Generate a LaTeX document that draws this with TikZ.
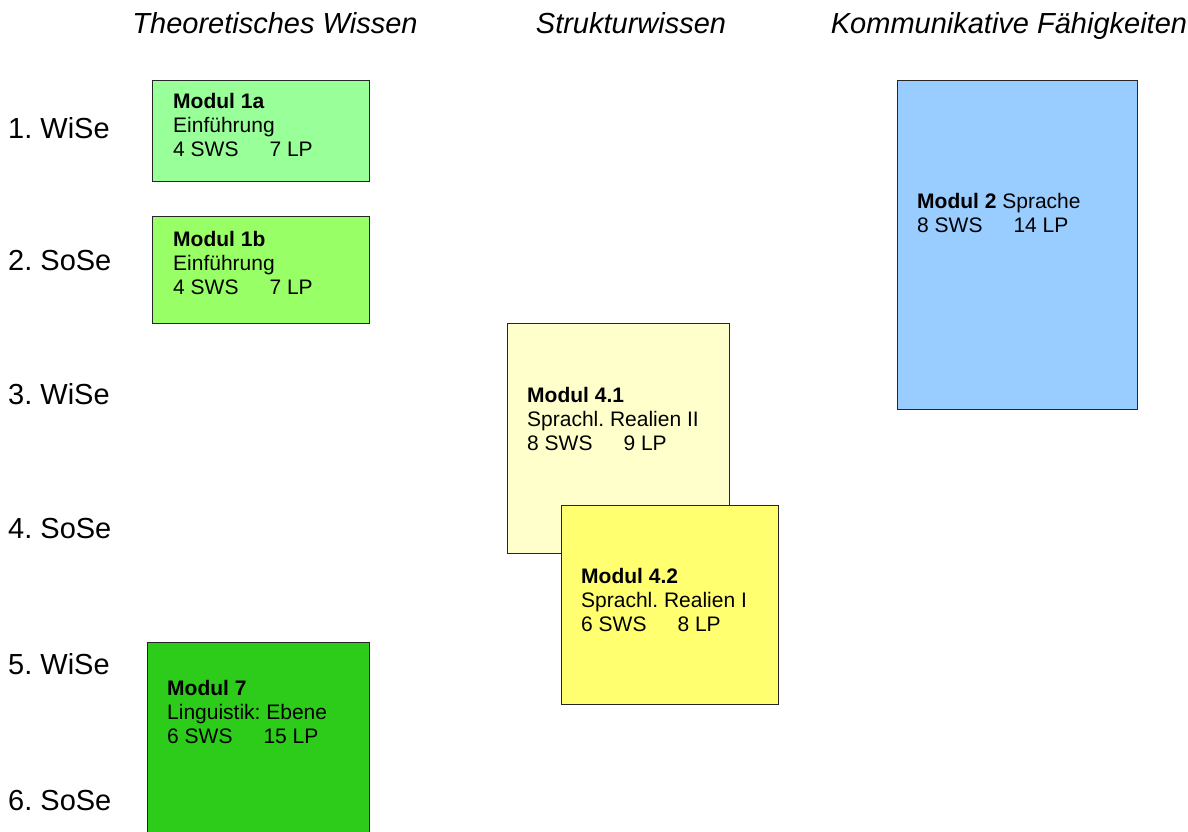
\documentclass[tikz,border=0pt]{standalone}
\usepackage{fontspec}
\setmainfont{Liberation Sans}
\definecolor{gruenhell}{HTML}{99FF99}
\definecolor{gruenmittel}{HTML}{99FF66}
\definecolor{gruendunkel}{HTML}{2DCC1A}
\definecolor{gelbhell}{HTML}{FFFFCC}
\definecolor{gelb}{HTML}{FFFF70}
\definecolor{blau}{HTML}{99CCFF}
\newcommand{\lp}{\hspace{31pt}}
\frenchspacing
\begin{document}
\begin{tikzpicture}[x=1pt, y=-1pt]
	\tikzstyle{modul}=[rectangle, draw=black!85, line width=1pt, anchor=north west, inner sep=0pt]
	% base = Grundlinie der letzten Zeile
	\tikzstyle{info}=[anchor=base west, inner sep=0pt, align=left, font=\fontsize{21}{23.8}\selectfont]
	\tikzstyle{semester}=[anchor=base west, inner sep=0pt, font=\fontsize{29}{33}\selectfont]
	\tikzstyle{bereich}=[anchor=base, inner sep=0pt, font=\fontsize{29}{33}\selectfont\itshape]
	\useasboundingbox (0, 0) rectangle (1188, 831);
	\clip (0, 0) rectangle (1188, 831);

	% Spaltenkoepfe
	\draw node[bereich] at (275, 33) (theorie) {Theoretisches Wissen};
	\draw node[bereich] at (631, 33) (struktur) {Strukturwissen};
	\draw node[bereich] at (1009, 33) (kommunikation) {Kommunikative Fähigkeiten};

	% Semester
	\draw node[semester] at (8, 138) (sem1) {1. WiSe};
	\draw node[semester] at (8, 270) (sem2) {2. SoSe};
	\draw node[semester] at (8, 404) (sem3) {3. WiSe};
	\draw node[semester] at (8, 538) (sem4) {4. SoSe};
	\draw node[semester] at (8, 674) (sem5) {5. WiSe};
	\draw node[semester] at (8, 810) (sem6) {6. SoSe};

	% Module
	\draw node[modul, fill=gruenhell, minimum width=217pt, minimum height=101pt] at (152, 80) (m1a) {};
	\draw node[info] at (173, 156) (t1a) {\textbf{Modul 1a}\\Einführung\\4 SWS\lp 7 LP};
	\draw node[modul, fill=gruenmittel, minimum width=217pt, minimum height=107pt] at (152, 216) (m1b) {};
	\draw node[info] at (173, 294) (t1b) {\textbf{Modul 1b}\\Einführung\\4 SWS\lp 7 LP};
	\draw node[modul, fill=blau, minimum width=240pt, minimum height=329pt] at (897, 80) (m2) {};
	\draw node[info] at (917, 232) (t2) {\textbf{Modul 2} Sprache\\8 SWS\lp 14 LP};
	\draw node[modul, fill=gelbhell, minimum width=222pt, minimum height=230pt] at (507, 323) (m41) {};
	\draw node[info] at (527, 450) (t41) {\textbf{Modul 4.1}\\Sprachl. Realien II\\8 SWS\lp 9 LP};
	\draw node[modul, fill=gelb, minimum width=217pt, minimum height=199pt] at (561, 505) (m42) {};
	\draw node[info] at (581, 631) (t42) {\textbf{Modul 4.2}\\Sprachl. Realien I\\6 SWS\lp 8 LP};
	\draw node[modul, fill=gruendunkel, minimum width=222pt, minimum height=210pt] at (147, 642) (m7) {};
	\draw node[info] at (167, 743) (t7) {\textbf{Modul 7}\\Linguistik: Ebene\\6 SWS\lp 15 LP};
\end{tikzpicture}
\end{document}
